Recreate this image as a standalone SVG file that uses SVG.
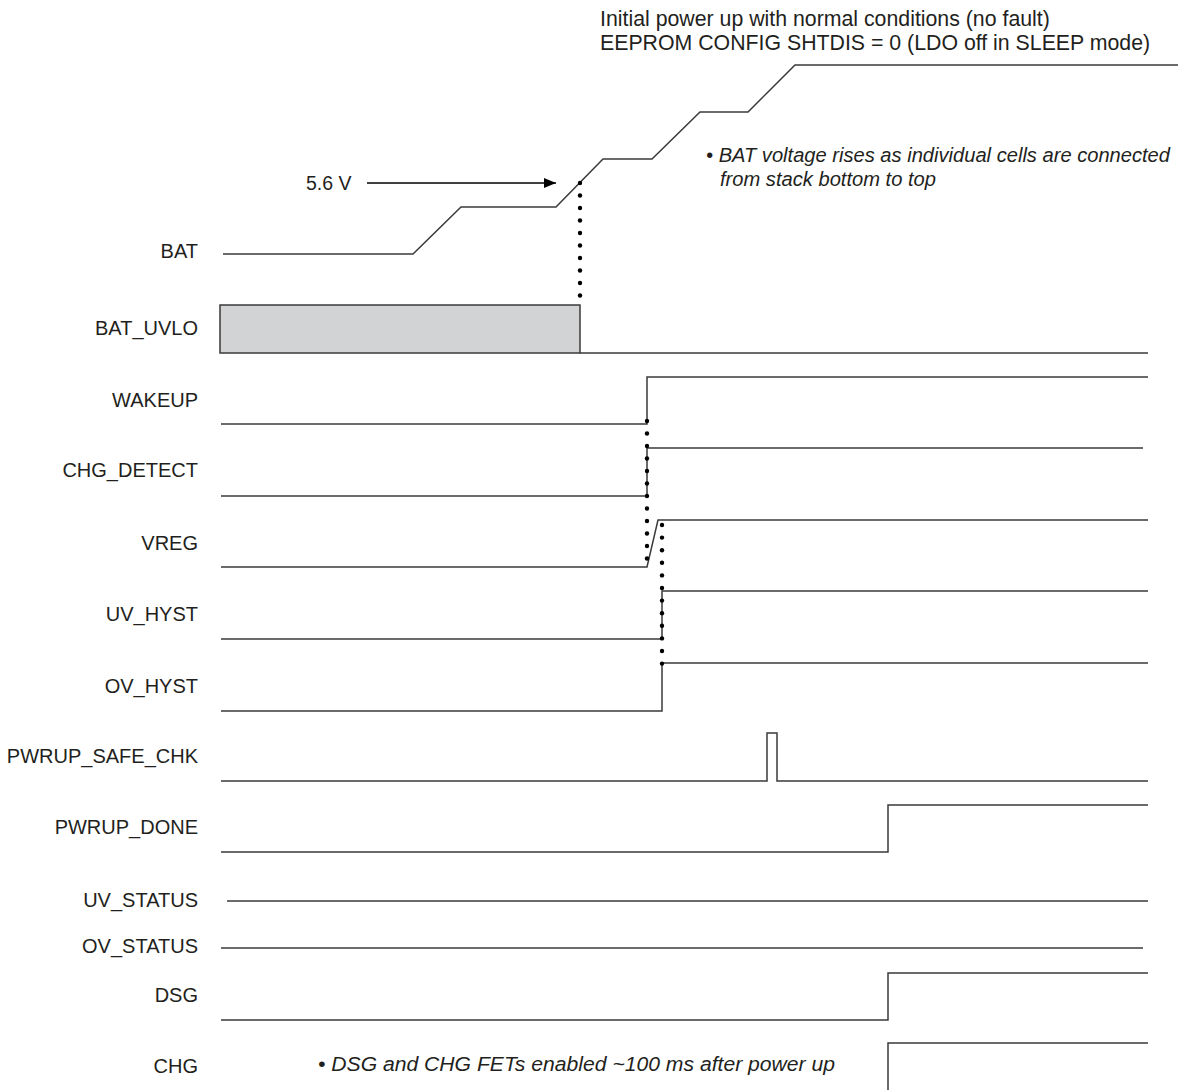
<svg xmlns="http://www.w3.org/2000/svg" width="1178" height="1090" viewBox="0 0 1178 1090">
<style>
.lbl{font-family:"Liberation Sans",Arial,sans-serif;font-size:20px;fill:#231f20;text-anchor:end}
.hdr{font-family:"Liberation Sans",Arial,sans-serif;font-size:21.3px;fill:#231f20}
.note{font-family:"Liberation Sans",Arial,sans-serif;font-size:20px;font-style:italic;fill:#231f20}
.sig{fill:none;stroke:#3a3a3a;stroke-width:1.5}
.dot{fill:#000}
</style>
<defs>
<marker id="ah" viewBox="0 0 12 10" refX="12" refY="5" markerWidth="12" markerHeight="10" markerUnits="userSpaceOnUse" orient="auto">
<path d="M0,0 L12,5 L0,10 Z" fill="#000"/>
</marker>
</defs>
<rect width="1178" height="1090" fill="#fff"/>

<g id="header">
<text class="hdr" x="600" y="26">Initial power up with normal conditions (no fault)</text>
<text class="hdr" x="600" y="50">EEPROM CONFIG SHTDIS = 0 (LDO off in SLEEP mode)</text>
</g>

<g id="note-bat">
<text class="note" x="706" y="162" textLength="464" lengthAdjust="spacingAndGlyphs">• BAT voltage rises as individual cells are connected</text>
<text class="note" x="720" y="186" textLength="216" lengthAdjust="spacingAndGlyphs">from stack bottom to top</text>
</g>

<g id="sig-BAT">
<text class="lbl" x="198" y="258">BAT</text>
<polyline class="sig" points="223,254 413,254 461,207 556,207 603,159 652,159 700,112 748,112 795,65 1178,65"/>
</g>

<g id="label-5v6">
<text class="lbl" style="text-anchor:start;font-size:19.5px" x="306" y="190">5.6 V</text>
</g>

<g id="sig-BAT_UVLO">
<text class="lbl" x="198" y="335">BAT_UVLO</text>
<rect x="220" y="305" width="360" height="48" fill="#d1d3d4" stroke="#3a3a3a" stroke-width="1.5"/>
<line class="sig" x1="580" y1="353" x2="1148" y2="353"/>
</g>

<g id="sig-WAKEUP">
<text class="lbl" x="198" y="407">WAKEUP</text>
<polyline class="sig" points="221,424 647,424 647,377 1148,377"/>
</g>

<g id="sig-CHG_DETECT">
<text class="lbl" x="198" y="477">CHG_DETECT</text>
<polyline class="sig" points="221,496 647,496 647,448 1143,448"/>
</g>

<g id="sig-VREG">
<text class="lbl" x="198" y="550">VREG</text>
<polyline class="sig" points="221,567 647,567 658,520 1148,520"/>
</g>

<g id="sig-UV_HYST">
<text class="lbl" x="198" y="621">UV_HYST</text>
<polyline class="sig" points="221,639 662,639 662,591 1148,591"/>
</g>

<g id="sig-OV_HYST">
<text class="lbl" x="198" y="693">OV_HYST</text>
<polyline class="sig" points="221,711 662,711 662,663 1148,663"/>
</g>

<g id="sig-PWRUP_SAFE_CHK">
<text class="lbl" x="198" y="763">PWRUP_SAFE_CHK</text>
<polyline class="sig" points="221,781 767,781 767,733 777,733 777,781 1148,781"/>
</g>

<g id="sig-PWRUP_DONE">
<text class="lbl" x="198" y="834">PWRUP_DONE</text>
<polyline class="sig" points="221,852 888,852 888,805 1148,805"/>
</g>

<g id="sig-UV_STATUS">
<text class="lbl" x="198" y="907">UV_STATUS</text>
<line class="sig" x1="227" y1="901" x2="1148" y2="901"/>
</g>

<g id="sig-OV_STATUS">
<text class="lbl" x="198" y="953">OV_STATUS</text>
<line class="sig" x1="221" y1="948" x2="1143" y2="948"/>
</g>

<g id="sig-DSG">
<text class="lbl" x="198" y="1002">DSG</text>
<polyline class="sig" points="221,1020 888,1020 888,973 1148,973"/>
</g>

<g id="sig-CHG">
<text class="lbl" x="198" y="1073">CHG</text>
<polyline class="sig" points="888,1092 888,1043 1148,1043"/>
</g>

<g id="note-fet">
<text class="note" x="318" y="1071" textLength="517" lengthAdjust="spacingAndGlyphs">• DSG and CHG FETs enabled ~100 ms after power up</text>
</g>

<g id="connectors">
<line x1="367" y1="183" x2="556" y2="183" stroke="#000" stroke-width="1.3" marker-end="url(#ah)"/>
<g class="dot">
<circle cx="580" cy="183" r="2.2"/><circle cx="580" cy="195.5" r="2.2"/><circle cx="580" cy="208" r="2.2"/><circle cx="580" cy="220.5" r="2.2"/><circle cx="580" cy="233" r="2.2"/><circle cx="580" cy="245.5" r="2.2"/><circle cx="580" cy="258" r="2.2"/><circle cx="580" cy="270.5" r="2.2"/><circle cx="580" cy="283" r="2.2"/><circle cx="580" cy="295.5" r="2.2"/>
<circle cx="647" cy="421" r="2.2"/><circle cx="647" cy="433.5" r="2.2"/><circle cx="647" cy="446" r="2.2"/><circle cx="647" cy="458.5" r="2.2"/><circle cx="647" cy="471" r="2.2"/><circle cx="647" cy="483.5" r="2.2"/><circle cx="647" cy="496" r="2.2"/><circle cx="647" cy="508.5" r="2.2"/><circle cx="647" cy="521" r="2.2"/><circle cx="647" cy="533.5" r="2.2"/><circle cx="647" cy="546" r="2.2"/><circle cx="647" cy="558.5" r="2.2"/>
<circle cx="662" cy="525" r="2.2"/><circle cx="662" cy="537.6" r="2.2"/><circle cx="662" cy="550.2" r="2.2"/><circle cx="662" cy="562.8" r="2.2"/><circle cx="662" cy="575.4" r="2.2"/><circle cx="662" cy="588" r="2.2"/><circle cx="662" cy="600.6" r="2.2"/><circle cx="662" cy="613.2" r="2.2"/><circle cx="662" cy="625.8" r="2.2"/><circle cx="662" cy="638.4" r="2.2"/><circle cx="662" cy="651" r="2.2"/><circle cx="662" cy="663.6" r="2.2"/>
</g>
</g>
</svg>
